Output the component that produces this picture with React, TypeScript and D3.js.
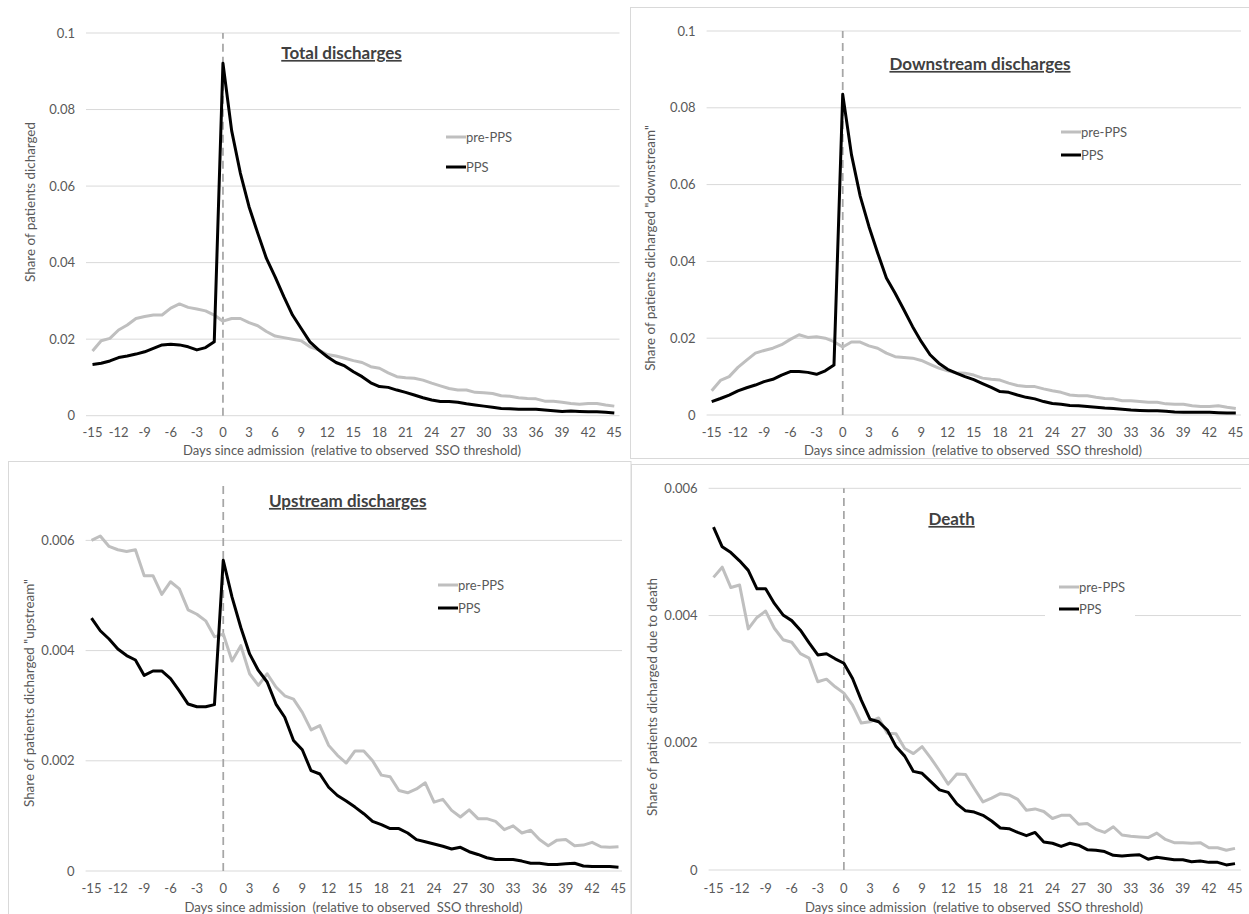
import React from "react";
import * as d3 from "d3";

// Days relative to the observed SSO threshold (category axis)
const days: number[] = d3.range(-15, 46);
const dayTicks: number[] = d3.range(-15, 46, 3);

// Tick values for the two kinds of y axes
const shareTicks = [0, 0.02, 0.04, 0.06, 0.08, 0.1];
const smallShareTicks = [0, 0.002, 0.004, 0.006];

// Total discharges
const totalPre = [
  0.0169, 0.0196, 0.0202, 0.0224, 0.0237, 0.0254, 0.0259, 0.0263, 0.0263, 0.0281, 0.0292, 0.0283, 0.0279, 0.0274, 0.0263,
  0.0247, 0.0254, 0.0254, 0.0243, 0.0235, 0.022, 0.0208, 0.0204, 0.02, 0.0196, 0.018, 0.0172, 0.016, 0.0156, 0.015, 0.0144,
  0.0139, 0.0128, 0.0124, 0.0112, 0.0102, 0.0099, 0.0098, 0.0093, 0.0085, 0.0078, 0.0071, 0.0067, 0.0067, 0.0061, 0.006,
  0.0058, 0.0052, 0.0051, 0.0047, 0.0045, 0.0044, 0.0038, 0.0038, 0.0035, 0.0032, 0.003, 0.0032, 0.0032, 0.0028, 0.0025,
];
const totalPps = [
  0.0134, 0.0137, 0.0143, 0.0152, 0.0156, 0.0161, 0.0167, 0.0176, 0.0185, 0.0187, 0.0185, 0.018, 0.0172, 0.0178, 0.0193,
  0.0921, 0.0745, 0.0634, 0.0546, 0.0477, 0.0411, 0.0363, 0.0311, 0.0263, 0.0228, 0.0193, 0.0172, 0.0154, 0.0139, 0.013,
  0.0115, 0.0102, 0.0086, 0.0076, 0.0074, 0.0067, 0.0061, 0.0054, 0.0047, 0.0041, 0.0037, 0.0037, 0.0035, 0.0031, 0.0028,
  0.0025, 0.0022, 0.0019, 0.0018, 0.0017, 0.0017, 0.0017, 0.0015, 0.0013, 0.0011, 0.0012, 0.0011, 0.001, 0.001, 0.0009, 0.0007,
];

// Downstream discharges
const downPre = [
  0.0063, 0.009, 0.01, 0.0124, 0.0143, 0.0161, 0.0168, 0.0174, 0.0183, 0.0197, 0.0209, 0.0202, 0.0204, 0.02, 0.0191,
  0.0177, 0.019, 0.019, 0.018, 0.0174, 0.0161, 0.0152, 0.015, 0.0148, 0.0142, 0.0132, 0.0122, 0.0115, 0.011, 0.0109, 0.0104,
  0.0096, 0.0093, 0.0091, 0.0083, 0.0077, 0.0074, 0.0074, 0.0068, 0.0063, 0.0059, 0.0052, 0.005, 0.005, 0.0046, 0.0043,
  0.0042, 0.0037, 0.0037, 0.0035, 0.0033, 0.0033, 0.0029, 0.0028, 0.0028, 0.0024, 0.0022, 0.0022, 0.0024, 0.002, 0.0017,
];
const downPps = [
  0.0035, 0.0043, 0.0052, 0.0063, 0.0071, 0.0078, 0.0087, 0.0093, 0.0104, 0.0113, 0.0113, 0.0111, 0.0106, 0.0115, 0.013,
  0.0835, 0.0678, 0.057, 0.0491, 0.0422, 0.0357, 0.0317, 0.0274, 0.023, 0.0191, 0.0157, 0.0135, 0.0119, 0.0109, 0.01, 0.0092,
  0.0082, 0.0072, 0.0061, 0.0059, 0.0052, 0.0046, 0.0042, 0.0035, 0.003, 0.0028, 0.0025, 0.0024, 0.0022, 0.002, 0.0018,
  0.0017, 0.0015, 0.0013, 0.0012, 0.0011, 0.0011, 0.001, 0.0008, 0.0007, 0.0007, 0.0007, 0.0007, 0.0006, 0.0005, 0.0005,
];

// Upstream discharges
const upPre = [
  0.006, 0.00608, 0.00589, 0.00583, 0.0058, 0.00583, 0.00536, 0.00536, 0.00502, 0.00525, 0.00512, 0.00474, 0.00466, 0.00454, 0.00425,
  0.0043, 0.00381, 0.00409, 0.00358, 0.00337, 0.00358, 0.00334, 0.00318, 0.00312, 0.00288, 0.00256, 0.00264, 0.00228, 0.0021,
  0.00196, 0.00218, 0.00218, 0.002, 0.00174, 0.00171, 0.00146, 0.00142, 0.00149, 0.0016, 0.00125, 0.0013, 0.0011, 0.00098,
  0.00111, 0.00095, 0.00095, 0.0009, 0.00075, 0.00082, 0.00069, 0.00074, 0.00057, 0.00046, 0.00056, 0.00057, 0.00046,
  0.00047, 0.00052, 0.00044, 0.00043, 0.00044,
];
const upPps = [
  0.00459, 0.00436, 0.00421, 0.00403, 0.00391, 0.00383, 0.00355, 0.00363, 0.00363, 0.00349, 0.00327, 0.00303, 0.00298, 0.00298, 0.00302,
  0.00564, 0.00497, 0.00442, 0.00394, 0.00364, 0.00343, 0.00303, 0.00279, 0.00237, 0.0022, 0.00182, 0.00176, 0.00152, 0.00137,
  0.00127, 0.00116, 0.00104, 0.0009, 0.00084, 0.00077, 0.00077, 0.00069, 0.00057, 0.00053, 0.00049, 0.00045, 0.0004, 0.00043,
  0.00035, 0.0003, 0.00024, 0.00021, 0.00021, 0.00021, 0.00018, 0.00014, 0.00014, 0.00012, 0.00012, 0.00013, 0.00014,
  0.00009, 0.00008, 0.00008, 0.00008, 0.00007,
];

// Death
const deathPre = [
  0.0046, 0.00476, 0.00444, 0.00448, 0.00379, 0.00397, 0.00407, 0.0038, 0.00362, 0.00358, 0.0034, 0.00333, 0.00296, 0.003, 0.00288,
  0.00278, 0.00259, 0.00231, 0.00233, 0.00239, 0.00215, 0.00214, 0.00191, 0.00183, 0.00194, 0.00176, 0.00156, 0.00135, 0.00151,
  0.0015, 0.00128, 0.00107, 0.00113, 0.0012, 0.00118, 0.00111, 0.00094, 0.00096, 0.00092, 0.00081, 0.00086, 0.00086, 0.00072,
  0.00073, 0.00064, 0.00059, 0.00068, 0.00055, 0.00053, 0.00052, 0.00051, 0.00058, 0.00048, 0.00043, 0.00043, 0.00042,
  0.00043, 0.00035, 0.00035, 0.00031, 0.00034,
];
const deathPps = [
  0.00539, 0.00508, 0.00499, 0.00486, 0.00471, 0.00442, 0.00442, 0.00419, 0.00401, 0.00392, 0.00377, 0.00357, 0.00338, 0.0034, 0.00332,
  0.00325, 0.00301, 0.00267, 0.00237, 0.00233, 0.0022, 0.00194, 0.00179, 0.00155, 0.00152, 0.00139, 0.00126, 0.00122, 0.00104,
  0.00093, 0.00091, 0.00086, 0.00077, 0.00066, 0.00065, 0.00059, 0.00054, 0.00059, 0.00044, 0.00042, 0.00037, 0.00042, 0.00039,
  0.00032, 0.00031, 0.00029, 0.00023, 0.00022, 0.00023, 0.00024, 0.00017, 0.0002, 0.00018, 0.00016, 0.00016, 0.00013,
  0.00014, 0.00012, 0.00012, 0.00008, 0.0001,
];

const FONT = "Lato, 'Open Sans', sans-serif";
const GRID = "#d9d9d9";
const TEXT = "#595959";
const PRE_COLOR = "#bfbfbf";
const PPS_COLOR = "#000000";

const xTitle = "Days since admission  (relative to observed  SSO threshold)";

type PanelProps = {
  title: string;
  titleX: number;
  titleY: number;
  yLabel: string;
  yLabelX: number;
  yLabelY: number;
  xTitleX: number;
  xTitleY: number;
  pre: number[];
  pps: number[];
  ticks: number[];
  yMax: number;
  xL: number; // position of day -15
  xR: number; // position of day 45
  gL: number; // gridline start
  gR: number; // gridline end
  yB: number; // position of 0
  yT: number; // position of yMax
  tickLabelY: number;
  legX: number;
  legY1: number;
  legY2: number;
  legendBox?: boolean;
};

function Panel(p: PanelProps) {
  const x = d3.scaleLinear().domain([-15, 45]).range([p.xL, p.xR]);
  const y = d3.scaleLinear().domain([0, p.yMax]).range([p.yB, p.yT]);
  const line = d3
    .line<number>()
    .x((_, i) => x(days[i]))
    .y((v) => y(v));
  const fmt = (v: number) => (v === 0 ? "0" : String(+v.toFixed(4)));

  return (
    <g>
      {p.ticks.map((t) => (
        <line key={"g" + t} x1={p.gL} x2={p.gR} y1={y(t)} y2={y(t)} stroke={GRID} strokeWidth={1} />
      ))}
      {p.ticks.map((t) => (
        <text
          key={"yl" + t}
          x={p.gL - 11}
          y={y(t)}
          dy="0.35em"
          textAnchor="end"
          fontSize={13}
          fill={TEXT}
        >
          {fmt(t)}
        </text>
      ))}
      {dayTicks.map((d) => (
        <text key={"xl" + d} x={x(d)} y={p.tickLabelY} dy="0.35em" textAnchor="middle" fontSize={13} fill={TEXT}>
          {String(d)}
        </text>
      ))}
      {p.legendBox && (
        <rect x={p.legX - 14} y={p.legY1 - 13} width={90} height={48} fill="#ffffff" />
      )}
      <line
        x1={x(0)}
        x2={x(0)}
        y1={y(0)}
        y2={y(p.yMax)}
        stroke="#a6a6a6"
        strokeWidth={1.75}
        strokeDasharray="8,5"
      />
      <path d={line(p.pre) ?? ""} fill="none" stroke={PRE_COLOR} strokeWidth={3} strokeLinejoin="round" />
      <path d={line(p.pps) ?? ""} fill="none" stroke={PPS_COLOR} strokeWidth={3} strokeLinejoin="round" />
      <text
        x={p.titleX}
        y={p.titleY}
        dy="0.35em"
        textAnchor="middle"
        fontSize={17}
        fontWeight="bold"
        fill="#404040"
        textDecoration="underline"
      >
        {p.title}
      </text>
      <line x1={p.legX} x2={p.legX + 20} y1={p.legY1} y2={p.legY1} stroke={PRE_COLOR} strokeWidth={3} />
      <text x={p.legX + 20} y={p.legY1} dy="0.35em" fontSize={13} fill={TEXT}>
        pre-PPS
      </text>
      <line x1={p.legX} x2={p.legX + 20} y1={p.legY2} y2={p.legY2} stroke={PPS_COLOR} strokeWidth={3} />
      <text x={p.legX + 20} y={p.legY2} dy="0.35em" fontSize={13} fill={TEXT}>
        PPS
      </text>
      <text x={p.xTitleX} y={p.xTitleY} dy="0.35em" textAnchor="middle" fontSize={13.1} fill={TEXT} xmlSpace="preserve">
        {xTitle}
      </text>
      <text
        transform={`translate(${p.yLabelX},${p.yLabelY}) rotate(-90)`}
        dy="0.35em"
        textAnchor="middle"
        fontSize={13.4}
        fill={TEXT}
      >
        {p.yLabel}
      </text>
    </g>
  );
}

export default function App() {
  return (
    <svg
      width={1249}
      height={914}
      viewBox="0 0 1249 914"
      style={{ position: "absolute", left: 0, top: 0, background: "#ffffff", fontFamily: FONT }}
    >
      <rect x={0} y={0} width={1249} height={914} fill="#ffffff" />
      {/* panel frames */}
      <rect x={630.5} y={7.5} width={640} height={451} fill="none" stroke={GRID} />
      <rect x={8.5} y={461.5} width={622.5} height={470} fill="none" stroke={GRID} />
      <rect x={631.5} y={464.5} width={640} height={470} fill="none" stroke={GRID} />

      <Panel
        title="Total discharges"
        titleX={341.5}
        titleY={53}
        yLabel="Share of patients dicharged"
        yLabelX={30}
        yLabelY={202}
        xTitleX={352}
        xTitleY={450}
        pre={totalPre}
        pps={totalPps}
        ticks={shareTicks}
        yMax={0.1}
        xL={92.5}
        xR={614.3}
        gL={86}
        gR={619.5}
        yB={415.7}
        yT={33}
        tickLabelY={432}
        legX={446}
        legY1={137}
        legY2={167}
      />
      <Panel
        title="Downstream discharges"
        titleX={980}
        titleY={64}
        yLabel={'Share of patients dicharged "downstream"'}
        yLabelX={650}
        yLabelY={248}
        xTitleX={973}
        xTitleY={450}
        pre={downPre}
        pps={downPps}
        ticks={shareTicks}
        yMax={0.1}
        xL={711.7}
        xR={1235.8}
        gL={706.6}
        gR={1241}
        yB={415}
        yT={31}
        tickLabelY={432}
        legX={1061}
        legY1={132}
        legY2={155}
      />
      <Panel
        title="Upstream discharges"
        titleX={347.7}
        titleY={501}
        yLabel={'Share of patients dicharged "upstream"'}
        yLabelX={29}
        yLabelY={693}
        xTitleX={353.5}
        xTitleY={907}
        pre={upPre}
        pps={upPps}
        ticks={smallShareTicks}
        yMax={0.007}
        xL={91.5}
        xR={618.5}
        gL={85.6}
        gR={622}
        yB={871}
        yT={485.3}
        tickLabelY={888}
        legX={438}
        legY1={585}
        legY2={608}
      />
      <Panel
        title="Death"
        titleX={951.6}
        titleY={519}
        yLabel="Share of patients dicharged due to death"
        yLabelX={652}
        yLabelY={697}
        xTitleX={974}
        xTitleY={907}
        pre={deathPre}
        pps={deathPps}
        ticks={smallShareTicks}
        yMax={0.006}
        xL={713.5}
        xR={1235}
        gL={708.6}
        gR={1241}
        yB={870}
        yT={488.3}
        tickLabelY={888}
        legX={1059}
        legY1={587}
        legY2={609}
        legendBox
      />
    </svg>
  );
}
